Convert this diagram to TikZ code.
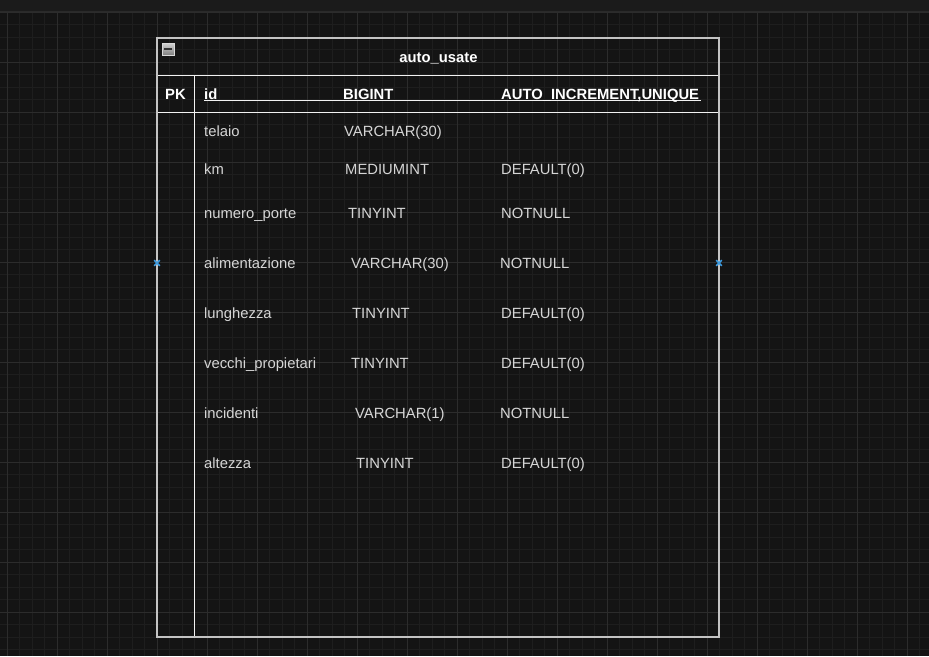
\documentclass[tikz,border=0pt]{standalone}
\usepackage{fontspec}
\setmainfont{Liberation Sans}
\usetikzlibrary{calc}

\definecolor{canvas}{HTML}{141414}
\definecolor{topbar}{HTML}{1B1B1B}
\definecolor{topline}{HTML}{2A2A2A}
\definecolor{minorgrid}{HTML}{1E1E1E}
\definecolor{majorgrid}{HTML}{2C2C2C}
\definecolor{bordergray}{HTML}{C4C4C4}
\definecolor{fieldtext}{HTML}{D6D6D6}
\definecolor{handleblue}{HTML}{3D9BE0}

\tikzset{
  minorline/.style={minorgrid,line width=0.8pt},
  majorline/.style={majorgrid,line width=0.8pt},
  rowline/.style={white!95!black,line width=1pt},
  tableborder/.style={bordergray,line width=1.4pt},
  field/.style={anchor=base west,inner sep=0pt,text=fieldtext},
  head/.style={anchor=base west,inner sep=0pt,text=white,font={\fontsize{14.8}{17}\selectfont\bfseries}},
  handle/.style={handleblue,line width=1.6pt},
}

\begin{document}
\begin{tikzpicture}[x=1pt,y=-1pt,font=\fontsize{14.8}{17}\selectfont]
\useasboundingbox (0,0) rectangle (929,656);

% Background
\fill[canvas] (0,0) rectangle (929,656);
\fill[topbar] (0,0) rectangle (929,11);
\draw[topline,line width=1pt] (0,11.5) -- (929,11.5);

% Grid
\foreach \i in {0,...,74} \draw[minorline] ({-5.2+12.5*\i},12) -- ++(0,644);
\foreach \j in {0,...,51} \draw[minorline] (0,{12.3+12.5*\j}) -- ++(929,0);
\foreach \i in {0,...,18} \draw[majorline] ({7.3+50*\i},12) -- ++(0,644);
\foreach \j in {0,...,12} \draw[majorline] (0,{12.3+50*\j}) -- ++(929,0);

% Table
\pgfmathsetmacro{\tabl}{157};
\pgfmathsetmacro{\tabr}{719};
\pgfmathsetmacro{\tabt}{38};
\pgfmathsetmacro{\tabb}{637};
\draw[rowline] (\tabl,75) coordinate(t1) -- (\tabr,75) coordinate(t2);
\draw[rowline] (\tabl,112.5) coordinate(h1) -- (\tabr,112.5) coordinate(h2);
\draw[rowline] (194,75) coordinate(k1) -- (194,\tabb) coordinate(k2);
\draw[rowline] (204,100.5) coordinate(u1) -- (701,100.5) coordinate(u2);
\draw[tableborder] (\tabl,\tabt) coordinate(nw) rectangle (\tabr,\tabb) coordinate(se);

% collapse icon
\node[draw=white!85!black,line width=0.6pt,top color=white!82!black,bottom color=white!50!black,minimum size=12pt,inner sep=0pt] (collapse) at (168,49) {};
\draw[black!80,line width=1.6pt] ($(collapse.west)+(2.5,0)$) -- ($(collapse.east)+(-2.5,0)$);

% Header
\node[head,anchor=base] (title) at (438.5,62) {auto\_usate};
\node[head,anchor=base] (pk) at (175.5,99) {PK};
\node[head] (hid) at (204,99) {id};
\node[head] (htype) at (343,99) {BIGINT};
\node[head] (hextra) at (501,99) {AUTO\_INCREMENT,UNIQUE};

% Fields
\node[field] (telaio) at (204,136) {telaio};
\node[field] (telaiotype) at (344,136) {VARCHAR(30)};

\node[field] (km) at (204,174) {km};
\node[field] (kmtype) at (345,174) {MEDIUMINT};
\node[field] (kmextra) at (501,174) {DEFAULT(0)};

\node[field] (porte) at (204,218) {numero\_porte};
\node[field] (portetype) at (348,218) {TINYINT};
\node[field] (porteextra) at (501,218) {NOTNULL};

\node[field] (alim) at (204,268) {alimentazione};
\node[field] (alimtype) at (351,268) {VARCHAR(30)};
\node[field] (alimextra) at (500,268) {NOTNULL};

\node[field] (lung) at (204,318) {lunghezza};
\node[field] (lungtype) at (352,318) {TINYINT};
\node[field] (lungextra) at (501,318) {DEFAULT(0)};

\node[field] (vecchi) at (204,368) {vecchi\_propietari};
\node[field] (vecchitype) at (351,368) {TINYINT};
\node[field] (vecchiextra) at (501,368) {DEFAULT(0)};

\node[field] (inc) at (204,418) {incidenti};
\node[field] (inctype) at (355,418) {VARCHAR(1)};
\node[field] (incextra) at (500,418) {NOTNULL};

\node[field] (alt) at (204,468) {altezza};
\node[field] (alttype) at (356,468) {TINYINT};
\node[field] (altextra) at (501,468) {DEFAULT(0)};

% Handles
\coordinate (lefth) at (\tabl,263);
\coordinate (righth) at (\tabr,263);
\draw[handle] ($(lefth)+(-2.8,-2.8)$) -- ++(5.6,5.6) ($(lefth)+(-2.8,2.8)$) -- ++(5.6,-5.6);
\draw[handle] ($(righth)+(-2.8,-2.8)$) -- ++(5.6,5.6) ($(righth)+(-2.8,2.8)$) -- ++(5.6,-5.6);
\end{tikzpicture}
\end{document}
